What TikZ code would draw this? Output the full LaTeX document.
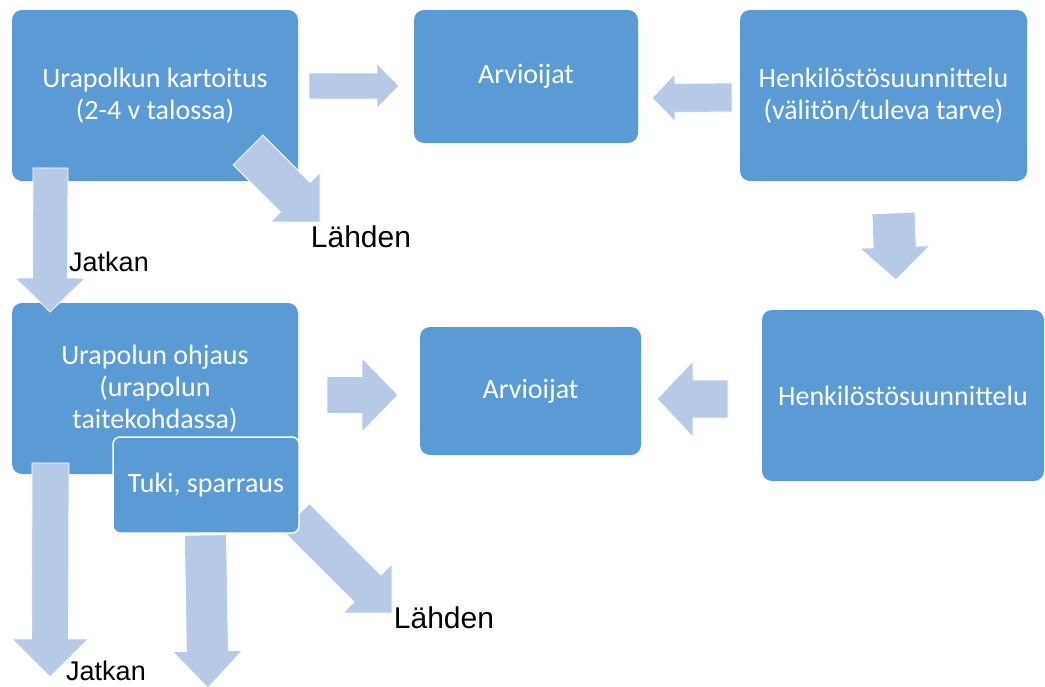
\documentclass[tikz,border=0pt]{standalone}
\usepackage{fontspec}
\usepackage{tikz}
\usetikzlibrary{calc}
\newfontfamily\boxfont{Carlito}
\newfontfamily\labelfont{Liberation Sans}
\definecolor{boxblue}{HTML}{5B9BD5}
\definecolor{arrowblue}{HTML}{B6CAE7}
\tikzset{
	phase/.style={rectangle, rounded corners=10pt, fill=boxblue, text=white, align=center, inner sep=0pt, font=\boxfont\fontsize{28}{32}\selectfont},
	subphase/.style={phase, rounded corners=7pt, draw=white, line width=1.5pt},
	outlabel/.style={inner sep=0pt, font=\labelfont\fontsize{#1}{#1}\selectfont}
}
% block arrow: (tail)(tip)(shaft half width:head half width:head length)
\def\blockarrow(#1)(#2)(#3:#4:#5){\path coordinate (hb) at ($(#2)!#5pt!(#1)$);
	\fill[arrowblue, draw=white, line width=0.8pt] ($(#1)!#3pt!90:(#2)$) -- ($(hb)!#3pt!-90:(#1)$) -- ($(hb)!#4pt!-90:(#1)$) -- (#2) -- ($(hb)!#4pt!90:(#1)$) -- ($(hb)!#3pt!90:(#1)$) -- ($(#1)!#3pt!-90:(#2)$) -- cycle;}

\begin{document}
\begin{tikzpicture}[x=1pt, y=-1pt]
			%%%%% START %%%%%
			\useasboundingbox (0, 0) rectangle (1045, 686);
			
			\node[phase, minimum width=286pt, minimum height=171pt] (kartoitus) at (155, 95.5) {Urapolkun kartoitus\\(2-4 v talossa)};
			\node[phase, minimum width=224pt, minimum height=133pt] (arv1) at (526, 76.5) {Arvioijat};
			\node[phase, minimum width=287pt, minimum height=171pt] (hens1) at (883.5, 95.5) {Henkilöstösuunnittelu\\(välitön/tuleva tarve)};
			\node[phase, minimum width=286pt, minimum height=171pt] (ohjaus) at (155, 388.5) {Urapolun ohjaus\\(urapolun\\taitekohdassa)};
			\node[phase, minimum width=221pt, minimum height=128pt] (arv2) at (530.5, 391) {Arvioijat};
			\node[phase, minimum width=282pt, minimum height=171pt] (hens2) at (903, 395.5) {Henkilöstösuunnittelu};
			
			\node[outlabel=30] (lahden1) at (361, 237) {Lähden};
			\node[outlabel=27] (jatkan1) at (109, 262) {Jatkan};
			\node[outlabel=30] (lahden2) at (444, 618) {Lähden};
			\node[outlabel=27] (jatkan2) at (106, 671) {Jatkan};
			
			\coordinate (k-a) at (309, 86);    \coordinate (k-b) at (399, 86);
			\coordinate (k-c) at (248, 150);   \coordinate (k-d) at (320, 222);
			\coordinate (k-e) at (50.5, 168);  \coordinate (k-f) at (50, 312);
			\coordinate (h-a) at (732, 97.5);  \coordinate (h-b) at (652, 98);
			\coordinate (h-c) at (893.5, 213); \coordinate (h-d) at (896, 280);
			\coordinate (h-e) at (728, 399);   \coordinate (h-f) at (657, 399);
			\coordinate (o-a) at (327, 395);   \coordinate (o-b) at (398, 395);
			\coordinate (o-c) at (50.5, 463);  \coordinate (o-d) at (50, 677);
			\coordinate (t-a) at (205.5, 535); \coordinate (t-b) at (208, 688);
			\coordinate (t-c) at (296, 517);   \coordinate (t-d) at (392, 613);
			
			\blockarrow(k-a)(k-b)(13:22.5:22);
			\blockarrow(k-c)(k-d)(21:35:35);
			\blockarrow(k-e)(k-f)(17.5:35:34);
			\blockarrow(h-a)(h-b)(14.5:24:23);
			\blockarrow(h-c)(h-d)(21.5:35:33);
			\blockarrow(h-e)(h-f)(19:38:36);
			\blockarrow(o-a)(o-b)(18.5:37:36);
			\blockarrow(o-c)(o-d)(18.5:38:38);
			\blockarrow(t-a)(t-b)(21:35:37);
			\blockarrow(t-c)(t-d)(19:34.6:34.6);
			
			\node[subphase, minimum width=186pt, minimum height=96pt] (tuki) at (206, 485) {Tuki, sparraus};
			%%%%% END %%%%%
\end{tikzpicture}
\end{document}
